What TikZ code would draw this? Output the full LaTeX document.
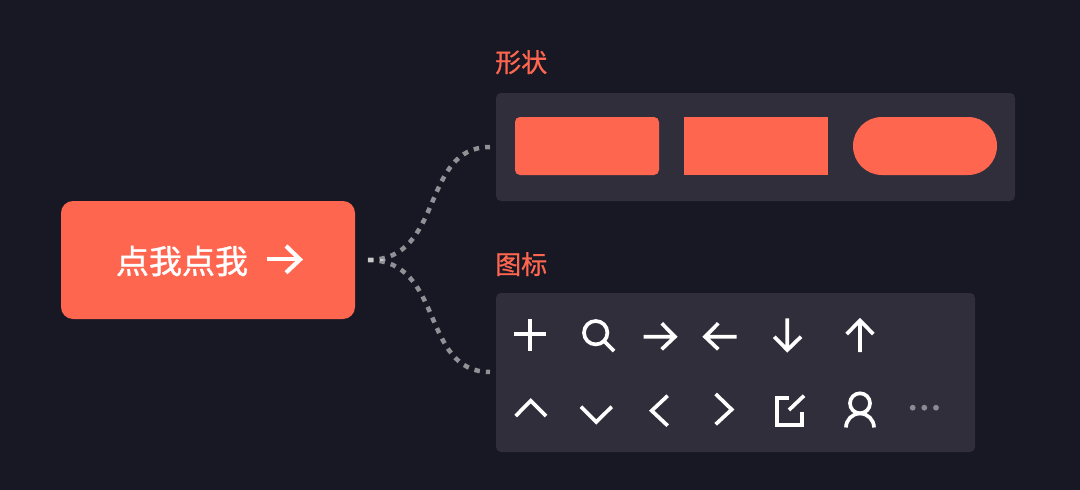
\documentclass[tikz,border=0pt]{standalone}
\usepackage{fontspec}
\setmainfont{Noto Sans CJK SC}
\newfontfamily\medfont{Noto Sans CJK SC}[FakeBold=0.7]
\newfontfamily\semifont{Noto Sans CJK SC}[FakeBold=1.1]
\definecolor{bgc}{HTML}{181824}
\definecolor{panelc}{HTML}{302E3A}
\definecolor{accent}{HTML}{FF6650}
\definecolor{dotc}{HTML}{8A8A92}
\tikzset{
  x=1pt,y=-1pt,
  box/.style={inner sep=0pt,outer sep=0pt,anchor=north west,fill=#1},
  panel/.style={box=panelc,rounded corners=5pt},
  shapebox/.style={box=accent,minimum width=144pt,minimum height=58pt},
  heading/.style={text=accent,font=\medfont\fontsize{26}{26}\selectfont,anchor=base west,inner sep=0pt},
  icon/.style={draw=white,line width=3.7pt,line cap=butt,line join=miter},
  link/.style={draw=white,opacity=0.52,line width=4.5pt,dash pattern=on 5.5pt off 6.1pt},
}
\begin{document}
\begin{tikzpicture}
\fill[bgc] (0,0) rectangle (1080,490);
\useasboundingbox (0,0) rectangle (1080,490);
% panels
\node[panel,minimum width=519pt,minimum height=108pt] (shapes) at (496,93) {};
\node[panel,minimum width=479pt,minimum height=159pt] (icons) at (496,293) {};
% button
\node[box=accent,rounded corners=12pt,minimum width=294pt,minimum height=118pt] (btn) at (61,201) {};
\node[text=white,font=\semifont\fontsize{33}{33}\selectfont,inner sep=0pt] (btntext) at (182,261) {点我点我};
\draw[icon,line width=4.2pt] (266.7,259) -- (300,259);
\draw[icon,line width=4.2pt] (286,246) -- (300,259.5) -- (286,272.7);
% headings
\node[heading] (h1) at (495,72) {形状};
\node[heading] (h2) at (495,274) {图标};
% shape samples
\node[shapebox,rounded corners=5pt] (s1) at (515,117) {};
\node[shapebox] (s2) at (684,117) {};
\node[shapebox,rounded corners=28.9pt] (s3) at (853,117) {};
% connectors
\draw[link,shorten <=13pt,shorten >=6pt] (btn.east) .. controls +(90,0) and +(-76,0) .. (shapes.west);
\draw[link,shorten <=13pt,shorten >=6pt] (btn.east) .. controls +(90,0) and +(-76,0) .. (icons.west |- 0,372);
% icons row 1
\draw[icon] (514,334) -- (546,334) (530,319) -- (530,351);
\draw[icon] (595.7,332.7) circle (11.7);
\draw[icon] (604.5,341.5) -- (614,351);
\draw[icon] (643.5,336.7) -- (674,336.7) (661.7,323.3) -- (675,336.7) -- (661.7,349.3);
\draw[icon] (736.7,336.7) -- (706,336.7) (718.3,323.3) -- (705,336.7) -- (718.3,349.3);
\draw[icon] (787.3,318.3) -- (787.3,349) (774.3,336.7) -- (787.3,350) -- (801,336.7);
\draw[icon] (860,352) -- (860,321) (846.7,334) -- (860,320.5) -- (873.3,334);
% icons row 2
\draw[icon] (515.7,416) -- (530.7,400.7) -- (546,416);
\draw[icon] (581,406.7) -- (596.3,422) -- (611.7,406.7);
\draw[icon] (667.7,395.7) -- (651.7,410.7) -- (667.7,425.7);
\draw[icon] (715.7,394) -- (731.7,409.5) -- (715.7,424.3);
\draw[icon] (789,398) -- (776.7,398) -- (776.7,425.2) -- (802,425.2) -- (802,411.7);
\draw[icon] (789,410) -- (804,395.7);
\draw[icon] (860,403.3) circle (10);
\draw[icon] (846,427.5) arc[start angle=180,end angle=0,x radius=14,y radius=-14];
\fill[dotc] (912.7,407.7) circle (2.9) (924.3,407.7) circle (2.9) (936,407.7) circle (2.9);
\end{tikzpicture}
\end{document}
